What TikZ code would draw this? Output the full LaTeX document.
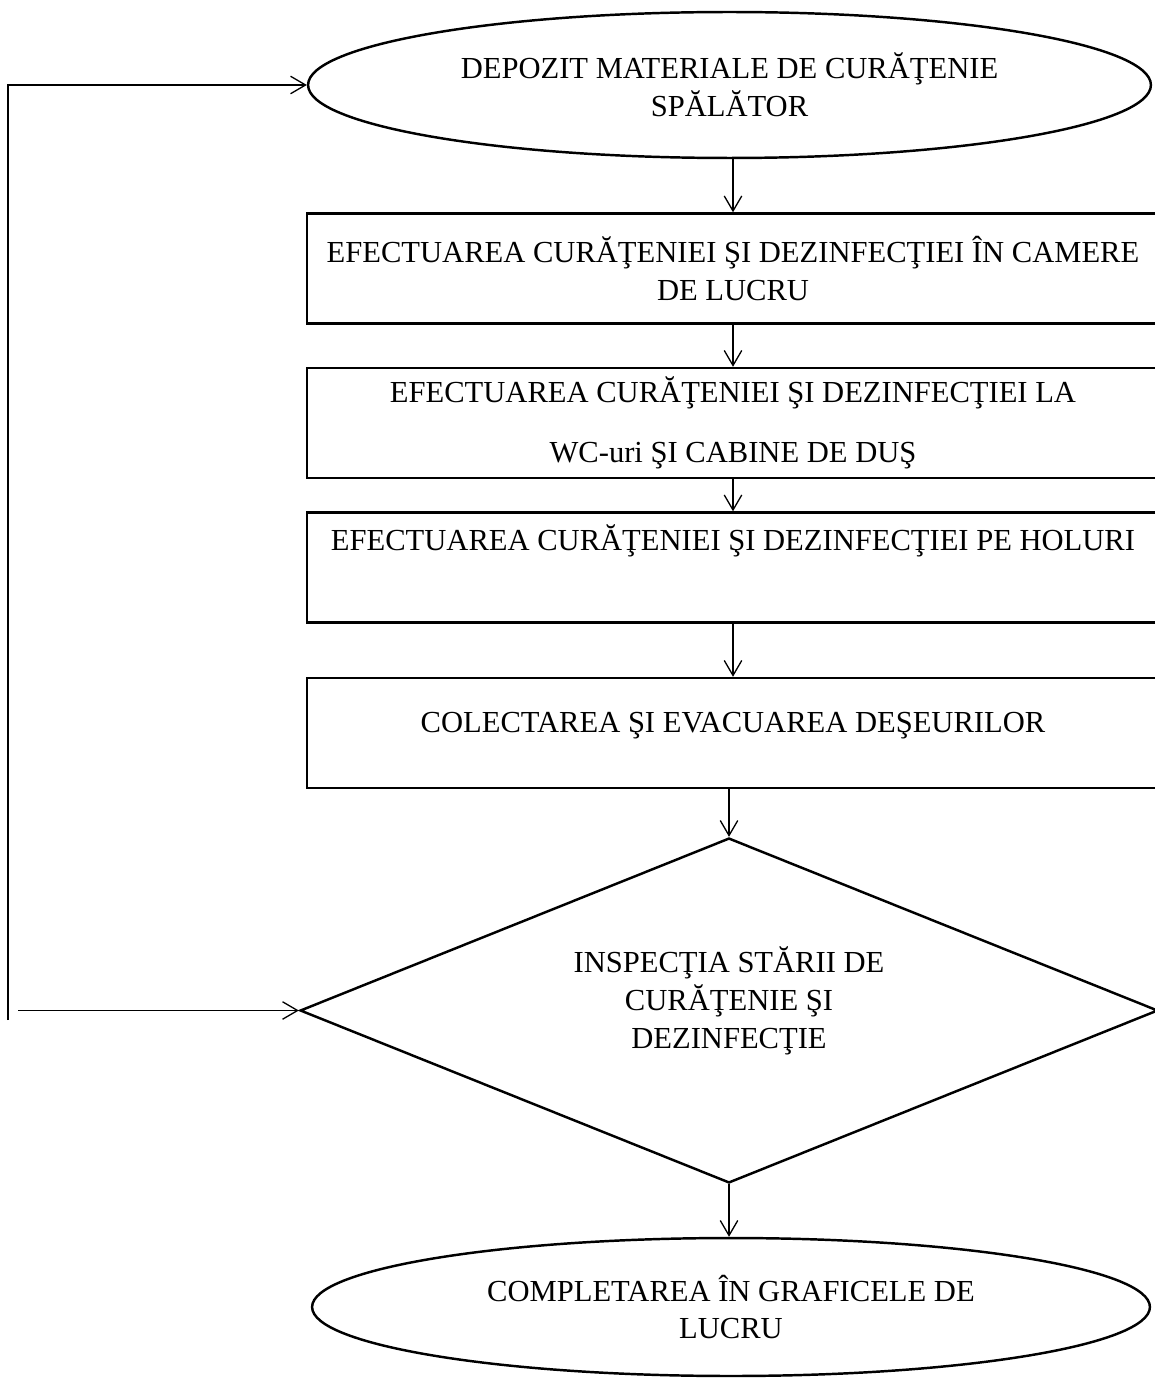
\documentclass[tikz,border=0pt]{standalone}
\usepackage{fontspec}
\setmainfont{Liberation Serif}
\usepackage{tikz}
\usetikzlibrary{shapes.geometric, arrows.meta}
\tikzstyle{terminal} = [ellipse, draw=black, line width=1.4pt, inner sep=0pt, align=center, font=\fontsize{17.4}{21.5}\selectfont]
\tikzstyle{process} = [rectangle, draw=black, line width=1.4pt, minimum width=17.04cm, minimum height=2.2cm, inner sep=0pt, align=center, font=\fontsize{17.4}{21.5}\selectfont]
\tikzstyle{decision} = [diamond, aspect=2.49, draw=black, line width=1.4pt, inner sep=0pt, align=center, font=\fontsize{17.4}{21.5}\selectfont]
\tikzstyle{arrow} = [line width=0.75pt, -{Straight Barb[length=0.3cm,width=0.35cm]}]

\begin{document}
\begin{tikzpicture}[x=0.02cm, y=-0.02cm]
\useasboundingbox (0,0) rectangle (1154,1378);

% start
\node[terminal, minimum width=16.86cm, minimum height=2.92cm] (depozit) at (729.5,85)
{DEPOZIT MATERIALE DE CURĂŢENIE\\SPĂLĂTOR};

% cleaning steps
\node[process] (camere) at (733,268.5)
{EFECTUAREA CURĂŢENIEI ŞI DEZINFECŢIEI ÎN CAMERE\\DE LUCRU};
\node[process] (wc) at (733,423)
{EFECTUAREA CURĂŢENIEI ŞI DEZINFECŢIEI LA\\[0.45cm]WC-uri ŞI CABINE DE DUŞ};
\node[process, text depth=34pt] (holuri) at (733,567.5)
{EFECTUAREA CURĂŢENIEI ŞI DEZINFECŢIEI PE HOLURI};
\node[process, text depth=12.6pt] (deseuri) at (733,733)
{COLECTAREA ŞI EVACUAREA DEŞEURILOR};

% check
\node[decision, minimum width=17.16cm, minimum height=6.9cm, text depth=15pt] (inspectie) at (729,1010.5)
{INSPECŢIA STĂRII DE\\CURĂŢENIE ŞI\\DEZINFECŢIE};

% end
\node[terminal, minimum width=16.76cm, minimum height=2.76cm] (completare) at (731,1307)
{COMPLETAREA ÎN GRAFICELE DE\\LUCRU};

\draw[arrow] (camere.north |- depozit.south) -- (camere.north);
\draw[arrow] (camere.south) -- (wc.north);
\draw[arrow] (wc.south) -- (holuri.north);
\draw[arrow] (holuri.south) -- (deseuri.north);
\draw[arrow] (inspectie.north |- deseuri.south) -- (inspectie.north);
\draw[arrow] (inspectie.south) -- (inspectie.south |- completare.north);

% loop back
\coordinate (retur) at (8,1020);
\coordinate (reintrare) at (18,1010.5);
\draw[arrow] (retur) |- (depozit.west);
\draw[arrow] (reintrare) -- (inspectie.west);
\end{tikzpicture}
\end{document}
